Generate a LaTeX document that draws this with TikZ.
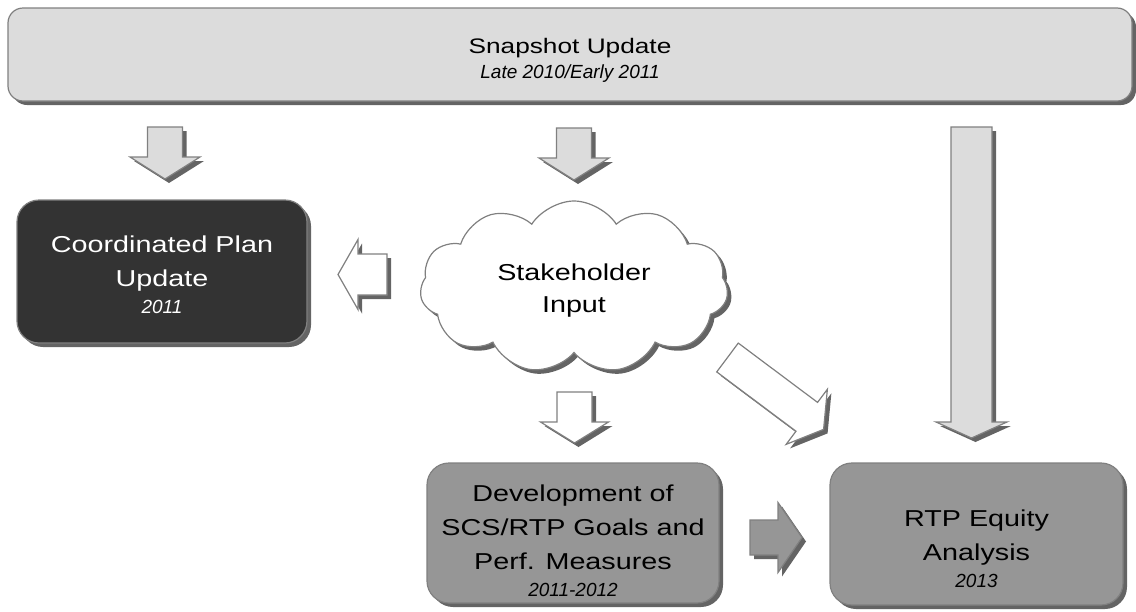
\documentclass[tikz,border=0pt]{standalone}
\usepackage{fontspec}
\setmainfont{Liberation Sans}
\newfontfamily\widesans[FakeStretch=1.25]{Liberation Sans}
\usetikzlibrary{shapes.symbols,shadows}

\definecolor{lightfill}{RGB}{220,220,220}
\definecolor{midfill}{RGB}{150,150,150}
\definecolor{darkfill}{RGB}{51,51,51}
\definecolor{edgegray}{RGB}{128,128,128}
\definecolor{shadowgray}{RGB}{100,100,100}

\tikzset{
  pics/blockarrow/.style args={#1/#2/#3/#4}{code={
    % length / shaft half width / head half width / head length
    \path[pic actions] (0,-#2) -- (#1-#4,-#2) -- (#1-#4,-#3) -- (#1,0)
      -- (#1-#4,#3) -- (#1-#4,#2) -- (0,#2) -- cycle;
  }},
  boxshadow/.style={drop shadow={shadow xshift=4pt, shadow yshift=-4pt, fill=shadowgray, opacity=1}},
  stagebox/.style={rounded corners=22pt, draw=edgegray, line width=1.2pt, align=center,
    inner sep=0pt, boxshadow, font=\widesans\fontsize{23}{34}\selectfont},
}

% italic year line, and a strut to push a text block down
\newcommand{\yearline}[1]{{\normalfont\itshape\fontsize{19}{22}\selectfont #1}}
\newcommand{\pushdown}[1]{\rule{0pt}{#1pt}}

% shadow first, then the arrow itself
\newcommand{\blockarrow}[4]{%
  \pic[fill=shadowgray, draw=none, rotate=#2] at ([shift={(4,4)}]#1) {blockarrow=#3};
  \pic[fill=#4, draw=edgegray, line width=1.2pt, rotate=#2] at (#1) {blockarrow=#3};
}

\begin{document}
\begin{tikzpicture}[x=1pt, y=-1pt]
\useasboundingbox (0,0) rectangle (1136,611);

% top bar
\node[stagebox, fill=lightfill, rounded corners=15pt, minimum width=1124pt, minimum height=93pt,
  font=\widesans\fontsize{21}{25}\selectfont] (snapshot) at (570,54.5)
  {\pushdown{26}Snapshot Update\\\yearline{Late 2010/Early 2011}};

% stages
\node[stagebox, fill=darkfill, text=white, minimum width=290pt, minimum height=143pt] (coordplan)
  at (162,271.5) {\pushdown{24}Coordinated Plan\\Update\\[-7pt]\yearline{2011}};
\node[cloud, cloud puffs=11, cloud puff arc=115, aspect=1.8, draw=edgegray, line width=1.2pt,
  fill=white, boxshadow, minimum width=308pt, minimum height=172pt, align=center, inner sep=0pt,
  font=\widesans\fontsize{23}{32}\selectfont] (input) at (574,287)
  {\pushdown{23}Stakeholder\\Input};
\node[stagebox, fill=midfill, minimum width=292pt, minimum height=140pt] (goals) at (573,533)
  {\pushdown{32}Development of\\SCS/RTP Goals and\\Perf. Measures\\[-7pt]\yearline{2011-2012}};
\node[stagebox, fill=midfill, minimum width=293pt, minimum height=142pt] (equity) at (976.5,534)
  {\pushdown{46}RTP Equity\\Analysis\\[-7pt]\yearline{2013}};

% block arrows
\blockarrow{165,127}{-90}{52/17.5/35/22}{lightfill}
\blockarrow{574,128}{-90}{52/17.5/35/22}{lightfill}
\blockarrow{971.5,127}{-90}{311/20.5/35.5/16}{lightfill}
\blockarrow{387,274.5}{180}{49/20.5/35/20}{white}
\blockarrow{574.5,392}{-90}{51/17.5/34/21}{white}
\blockarrow{727.5,357.5}{-36.8}{120/18/34.4/21}{white}
\blockarrow{750,537.5}{0}{52/17.5/35/24}{midfill}
\end{tikzpicture}
\end{document}
